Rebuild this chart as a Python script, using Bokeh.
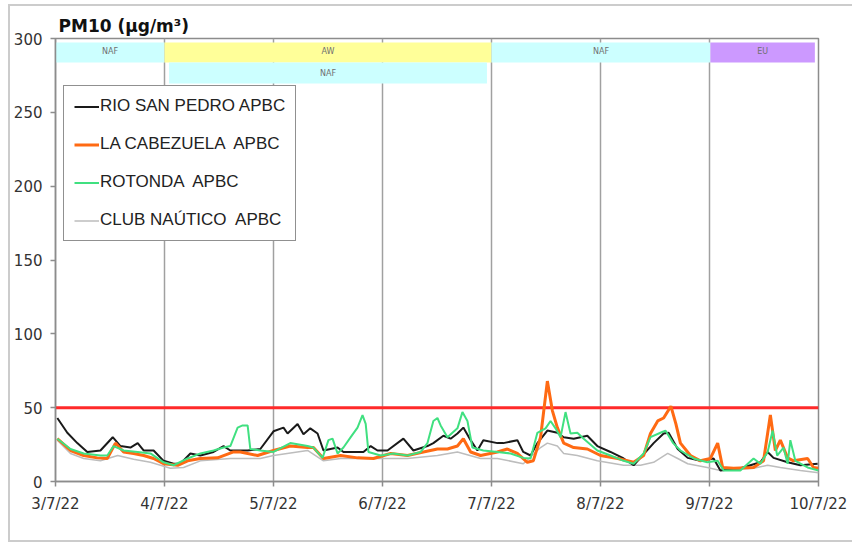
from bokeh.plotting import figure
from bokeh.layouts import column
from bokeh.models import Legend, LegendItem, FixedTicker, ColumnDataSource
from bokeh.embed import file_html
from bokeh.resources import INLINE
from bokeh.core.properties import value

# ---------------- data (hours since 3/7/22 00:00) ----------------
DAY_HOURS = [0, 24, 48, 72, 96, 120, 144, 168]
DAY_LABELS = ["3/7/22", "4/7/22", "5/7/22", "6/7/22", "7/7/22", "8/7/22", "9/7/22", "10/7/22"]
Y_TICKS = [0, 50, 100, 150, 200, 250, 300]
LIMIT = 50

RSP_H = [0.4, 2.6, 4.8, 7.0, 9.9, 12.6, 14.3, 16.5, 18.1, 19.4, 21.6, 23.8, 26.0, 27.5, 29.7, 31.9,
         34.8, 37.0, 38.5, 42.3, 45.1, 48.0, 50.2, 51.1, 53.3, 54.6, 56.1, 57.7, 59.0, 62.1, 63.4,
         67.8, 69.4, 70.9, 73.1, 76.6, 78.8, 81.9, 83.2, 85.4, 87.0, 88.5, 89.8, 91.4, 92.9, 94.2,
         97.3, 98.6, 101.7, 103.0, 104.6, 106.1, 108.3, 110.5, 111.9, 114.1, 117.1, 119.3, 122.2,
         125.1, 127.3, 131.7, 133.9, 135.0, 137.0, 139.2, 142.0, 144.9, 146.4, 150.8, 155.2, 156.8,
         158.1, 161.2, 164.0, 167.8]
RSP_V = [43, 33, 26, 20, 21, 30, 24, 23, 26, 21, 21, 14, 12, 12, 19, 17.6,
         20, 24, 21, 21, 22, 34, 36.5, 32.5, 39, 32, 36, 32.5, 21, 23, 20,
         20, 24, 21, 21, 29, 21, 24, 26, 31, 29, 32.5, 36.5, 28, 21, 28,
         26, 26, 28, 20, 17.6, 26, 34.5, 33, 30, 29, 31, 24, 20,
         15.6, 11, 26, 32.5, 33, 22, 16, 14, 15.6, 7.5, 9, 13, 20,
         16, 13, 11, 12]

CAB_H = [0.4, 3.3, 6.2, 9.2, 11.4, 13.2, 15.0, 17.2, 19.4, 21.6, 23.8, 26.9, 29.1, 31.9, 35.7,
         39.2, 40.7, 44.5, 48.0, 51.7, 55.5, 56.8, 59.0, 62.8, 66.5, 70.0, 73.8, 77.5, 81.0, 84.1,
         86.3, 88.5, 89.8, 91.4, 93.6, 97.3, 99.5, 101.7, 103.9, 105.2, 106.8, 108.3, 109.4, 110.5,
         111.9, 114.1, 117.1, 120.0, 123.8, 127.3, 129.5, 131.0, 132.6, 133.9, 135.5, 136.6, 137.6,
         139.8, 142.0, 144.2, 145.8, 146.9, 149.3, 153.7, 155.9, 157.4, 158.5, 159.6, 161.2, 162.5,
         165.6, 166.9, 168.0]
CAB_V = [29, 21, 17.6, 16, 15.6, 26, 20, 19, 17.6, 15.6, 12, 11, 14, 15.6, 16,
         20, 20, 17.6, 21, 24, 23, 23, 15.6, 17.6, 16, 15.6, 19, 17.6, 20, 22,
         22, 24, 29, 20, 17.6, 20, 22, 19, 13, 14, 30, 68, 48, 36.5,
         26, 23, 22, 17.6, 15.6, 13, 17.6, 32.5, 41, 43, 51, 39, 26,
         17.6, 14, 15.6, 26, 9.5, 9, 9.5, 14, 45, 21, 28, 16, 14,
         15.6, 9.5, 9]

ROT_H = [0.4, 3.3, 6.2, 9.9, 11.4, 12.8, 15.0, 18.1, 20.9, 23.8, 26.0, 29.1, 31.9, 34.8, 37.0,
         38.5, 40.1, 41.2, 42.3, 42.9, 45.1, 48.0, 51.7, 55.5, 56.8, 58.8, 60.1, 61.0, 62.1, 63.4,
         65.0, 66.5, 67.6, 68.3, 68.9, 71.6, 74.4, 77.5, 80.4, 81.9, 83.2, 84.1, 84.8, 86.3, 88.5,
         89.6, 90.7, 91.8, 94.2, 97.3, 100.2, 103.0, 104.6, 106.1, 107.9, 109.0, 110.1, 111.2,
         112.3, 113.4, 114.9, 116.3, 119.3, 122.2, 125.1, 127.3, 129.5, 131.0, 133.2, 134.3, 136.0,
         137.6, 140.5, 143.5, 145.8, 147.1, 150.8, 153.7, 155.2, 156.8, 157.9, 158.9, 160.3, 161.2,
         161.8, 162.9, 165.6, 168.0]
ROT_V = [29, 22, 19, 17.6, 17.6, 24, 21, 20, 19, 13, 11, 15.6, 19, 21, 23,
         24, 36.5, 38, 38, 22, 21, 20, 26, 24, 23, 16, 28, 29, 19, 23,
         30, 36.5, 45, 39, 20, 17.6, 19, 17.6, 20, 26, 41, 43, 38, 30, 36,
         47, 41, 23, 21, 20, 19, 16, 15.6, 33, 36, 41, 36, 30,
         47, 32.5, 33, 29, 21, 17.6, 14, 12, 19, 30, 33, 34.5, 26,
         21, 15.6, 13, 14, 7.5, 7.5, 15.6, 12, 20, 34.5, 17.6, 23, 12,
         28, 14, 9.5, 7.5]

NAU_H = [0.4, 3.3, 6.2, 9.9, 13.7, 17.2, 20.9, 25.3, 28.2, 31.9, 38.5, 42.3, 45.1, 48.0, 55.5,
         59.0, 62.8, 70.0, 77.5, 84.1, 88.5, 93.6, 97.3, 103.0, 106.8, 108.3, 110.5, 111.9, 114.9,
         119.3, 125.1, 128.8, 131.7, 134.8, 137.0, 139.2, 143.5, 146.4, 153.7, 156.8, 159.6, 164.0,
         168.0]
NAU_V = [28, 19, 15.6, 14, 17.6, 15, 13, 9, 9.5, 14, 15.6, 15.6, 15.6, 17.6, 21,
         14, 15.6, 15.6, 15.6, 17.6, 20, 15.6, 15.6, 12, 23, 26, 24, 19, 17.6,
         14, 11, 11, 13, 19, 15.6, 12, 9.5, 7.5, 9, 11, 9.5, 7.5,
         6]

BAND_LABELS = ["NAF", "AW", "NAF", "NAF", "EU"]
BAND_START = [0, 24, 25, 96, 144.2]
BAND_END = [24, 96, 95, 144.2, 167.2]
BAND_ROW = [0, 0, 1, 0, 0]

# ---------------- styles ----------------
BAND_COLORS = {"NAF": "#CCFFFF", "AW": "#FFFF99", "EU": "#CC99FF"}
ROW_TOP = [297.3, 283.7]
ROW_BOTTOM = [283.7, 269.5]
ROW_TEXT_Y = [291.0, 276.5]

fig = figure(width=842, height=534, x_range=(DAY_HOURS[0], DAY_HOURS[-1]), y_range=(Y_TICKS[0], Y_TICKS[-1]),
             output_backend="svg", toolbar_location=None,
             min_border_left=45, min_border_right=34, min_border_top=32, min_border_bottom=59)

fig.title.text = "PM10 (µg/m³)"
fig.title.align = "left"
fig.title.offset = 3
fig.title.standoff = 5
fig.title.text_font = "DejaVu Sans"
fig.title.text_font_style = "bold"
fig.title.text_font_size = "17px"
fig.title.text_color = "#111111"

fig.outline_line_color = "#8c8c8c"
fig.outline_line_width = 1.5
fig.ygrid.grid_line_color = None
fig.xgrid.ticker = FixedTicker(ticks=DAY_HOURS)
fig.xgrid.grid_line_color = "#a0a0a0"
fig.xgrid.grid_line_width = 1.5

fig.xaxis.ticker = FixedTicker(ticks=DAY_HOURS)
fig.xaxis.major_label_overrides = {h: lab for h, lab in zip(DAY_HOURS, DAY_LABELS)}
fig.yaxis.ticker = FixedTicker(ticks=Y_TICKS)
for ax in (fig.xaxis[0], fig.yaxis[0]):
    ax.axis_line_color = "#8c8c8c"
    ax.axis_line_width = 1.5
    ax.major_tick_line_color = "#8c8c8c"
    ax.major_tick_line_width = 1.5
    ax.major_tick_in = 0
    ax.major_tick_out = 5
    ax.minor_tick_line_color = None
    ax.major_label_text_font = "DejaVu Sans"
    ax.major_label_text_font_size = "15px"
    ax.major_label_text_color = "#333333"
fig.yaxis.major_label_standoff = 8
fig.xaxis.major_label_standoff = 8

# bands
band_src = ColumnDataSource(dict(
    left=BAND_START, right=BAND_END,
    top=[ROW_TOP[r] for r in BAND_ROW], bottom=[ROW_BOTTOM[r] for r in BAND_ROW],
    color=[BAND_COLORS[l] for l in BAND_LABELS], label=BAND_LABELS,
    xc=[(a + b) / 2 for a, b in zip(BAND_START, BAND_END)],
    yc=[ROW_TEXT_Y[r] for r in BAND_ROW]))
fig.quad(left="left", right="right", top="top", bottom="bottom", fill_color="color",
         line_color=None, source=band_src)
fig.text(x="xc", y="yc", text="label", source=band_src, text_align="center", text_baseline="middle",
         text_font=value("DejaVu Sans"), text_font_size="8px", text_color="#707070")

# limit line
fig.line([DAY_HOURS[0], DAY_HOURS[-1]], [LIMIT, LIMIT], line_color="#ff2a2a", line_width=3)

r_nau = fig.line(NAU_H, NAU_V, line_color="#bdbdbd", line_width=1.5)
r_rsp = fig.line(RSP_H, RSP_V, line_color="#1a1a1a", line_width=2)
r_cab = fig.line(CAB_H, CAB_V, line_color="#ff6a13", line_width=3)
r_rot = fig.line(ROT_H, ROT_V, line_color="#40e080", line_width=2)

legend = Legend(items=[
    LegendItem(label="RIO SAN PEDRO APBC", renderers=[r_rsp]),
    LegendItem(label="LA CABEZUELA  APBC", renderers=[r_cab]),
    LegendItem(label="ROTONDA  APBC", renderers=[r_rot]),
    LegendItem(label="CLUB NAÚTICO  APBC", renderers=[r_nau]),
], location=(8, 240))
legend.border_line_color = "#222222"
legend.border_line_width = 1.5
legend.background_fill_alpha = 1
legend.padding = 10
legend.spacing = 18
legend.margin = 0
legend.glyph_width = 25
legend.glyph_height = 19
legend.label_height = 19
legend.label_standoff = 1
legend.label_text_font = "Liberation Sans"
legend.label_text_font_size = "17px"
legend.label_text_color = "#222222"
fig.add_layout(legend)

p = column(fig, styles={"margin-left": "8px", "margin-top": "4px",
                        "border-left": "2px solid #cccccc", "border-top": "2px solid #cccccc",
                        "border-bottom": "2px solid #cccccc"})

open("out.html", "w").write(file_html(p, INLINE))
